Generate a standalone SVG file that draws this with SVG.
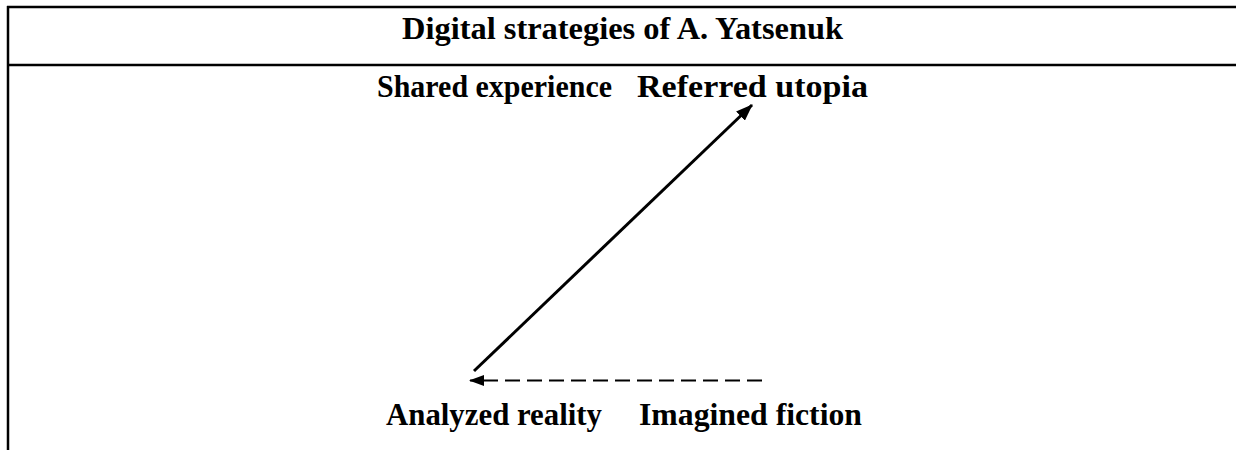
<svg xmlns="http://www.w3.org/2000/svg" width="1236" height="450" viewBox="0 0 1236 450">
<style>
.t{font-family:"Liberation Serif","Times New Roman",serif;font-weight:bold;font-size:31px;fill:#000}
.b{stroke:#000;stroke-width:2.5;fill:none}
.c{stroke:#000;stroke-width:3;fill:none}
.d{stroke:#000;stroke-width:2;fill:none;stroke-dasharray:15 7}
</style>
<defs>
<marker id="ah" viewBox="0 0 16 12" refX="15" refY="6" markerWidth="17" markerHeight="13" markerUnits="userSpaceOnUse" orient="auto">
<path d="M0,0 L16,6 L0,12 z" fill="#000"/>
</marker>
<marker id="ah-d" viewBox="0 0 15 11" refX="14" refY="5.5" markerWidth="15" markerHeight="11" markerUnits="userSpaceOnUse" orient="auto">
<path d="M0,0 L15,5.5 L0,11 z" fill="#000"/>
</marker>
</defs>
<g id="frame">
<line class="b" x1="7" y1="7" x2="1236" y2="7"/>
<line class="b" x1="7" y1="65" x2="1236" y2="65"/>
<line class="b" x1="8" y1="6" x2="8" y2="450"/>
</g>
<g id="title"><text class="t" x="402" y="39" font-size="32" textLength="441" lengthAdjust="spacingAndGlyphs">Digital strategies of A. Yatsenuk</text></g>
<g id="shared-experience"><text class="t" x="377" y="97" textLength="235" lengthAdjust="spacingAndGlyphs">Shared experience</text></g>
<g id="referred-utopia"><text class="t" x="637" y="97" textLength="231" lengthAdjust="spacingAndGlyphs">Referred utopia</text></g>
<g id="analyzed-reality"><text class="t" x="386" y="425" textLength="216" lengthAdjust="spacingAndGlyphs">Analyzed reality</text></g>
<g id="imagined-fiction"><text class="t" x="639" y="425" textLength="223" lengthAdjust="spacingAndGlyphs">Imagined fiction</text></g>
<g id="connectors">
<line class="c" x1="474" y1="371" x2="752" y2="105" marker-end="url(#ah)"/>
<line class="d" x1="762" y1="380.5" x2="470" y2="380.5" marker-end="url(#ah-d)"/>
</g>
</svg>
